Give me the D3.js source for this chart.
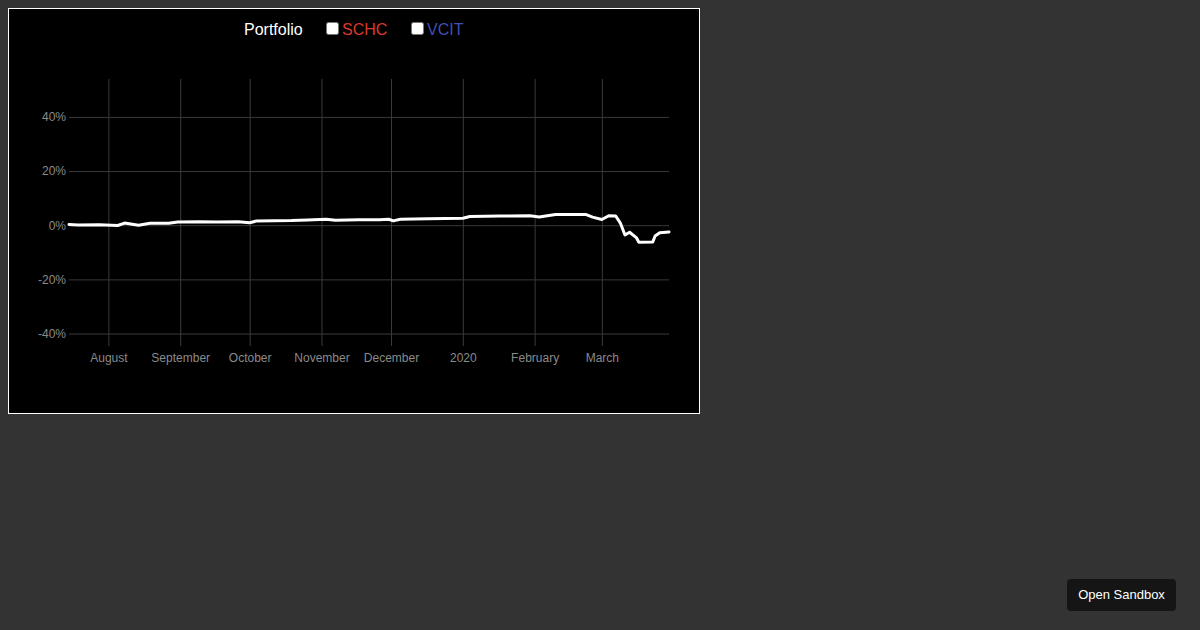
<!DOCTYPE html>
<html>
<head>
<meta charset="utf-8">
<script src="https://cdn.jsdelivr.net/npm/d3@7"></script>
<style>
  html, body { margin: 0; padding: 0; background: #333333; width: 1200px; height: 630px; overflow: hidden; font-family: "Liberation Sans", Arial, sans-serif; }
  #chart { position: absolute; left: 8px; top: 8px; }
  #sandbox { position: absolute; left: 1067px; top: 579px; width: 109px; height: 32px; background: #151515; border-radius: 4px;
    color: #fff; font-size: 13px; line-height: 32px; text-align: center; font-family: "Liberation Sans", Arial, sans-serif; }
</style>
</head>
<body>
<div id="chart"></div>
<div id="sandbox">Open Sandbox</div>
<script>
// ---- data ----
const legendNames = ["Portfolio", "SCHC", "VCIT"];
const legendColors = ["#ffffff", "#d9392e", "#3f4fb0"];
const dates = [
  "2019-07-15","2019-07-19","2019-07-28","2019-08-05","2019-08-08","2019-08-14","2019-08-19","2019-08-27",
  "2019-08-31","2019-09-09","2019-09-17","2019-09-26","2019-10-01","2019-10-04","2019-10-19","2019-10-26",
  "2019-11-03","2019-11-07","2019-11-17","2019-11-26","2019-11-30","2019-12-02","2019-12-05","2019-12-17",
  "2020-01-01","2020-01-04","2020-01-17","2020-01-30","2020-02-03","2020-02-10","2020-02-23","2020-02-26",
  "2020-03-01","2020-03-04","2020-03-07","2020-03-09","2020-03-11","2020-03-13","2020-03-16","2020-03-17",
  "2020-03-23","2020-03-24","2020-03-26","2020-03-30"
];
const portfolio = [
  0.003, 0.001, 0.002, -0.001, 0.008, 0.000, 0.007, 0.007,
  0.012, 0.013, 0.012, 0.013, 0.009, 0.016, 0.017, 0.019,
  0.022, 0.018, 0.020, 0.020, 0.022, 0.016, 0.022, 0.024,
  0.026, 0.032, 0.034, 0.035, 0.030, 0.040, 0.040, 0.030,
  0.021, 0.035, 0.034, 0.008, -0.036, -0.026, -0.047, -0.063,
  -0.062, -0.040, -0.028, -0.025
];
const yTicks = [-0.4, -0.2, 0, 0.2, 0.4];
const yDomain = [-0.446, 0.54];

// ---- layout ----
const W = 692, H = 406;
const m = { left: 61, right: 31, top: 71, bottom: 68 };
const pw = W - m.left - m.right, ph = H - m.top - m.bottom;

const svg = d3.select("#chart").append("svg").attr("width", W).attr("height", H);
svg.append("rect").attr("x", 0.5).attr("y", 0.5).attr("width", W - 1).attr("height", H - 1)
  .attr("fill", "#000").attr("stroke", "#fff").attr("stroke-width", 1);

const parse = d3.timeParse("%Y-%m-%d");
const data = dates.map((d, i) => ({ date: parse(d), v: portfolio[i] }));

const x = d3.scaleTime().domain(d3.extent(data, d => d.date)).range([0, pw]);
const y = d3.scaleLinear().domain(yDomain).range([ph, 0]);

const g = svg.append("g").attr("transform", `translate(${m.left},${m.top})`);

const fmtPct = v => (v < 0 ? "-" : "") + Math.round(Math.abs(v) * 100) + "%";

const yAxis = g.append("g").call(d3.axisLeft(y).tickValues(yTicks).tickFormat(fmtPct).tickSize(-pw).tickPadding(3));
yAxis.select(".domain").remove();
yAxis.selectAll("line").attr("stroke", "#3a3a3a");
yAxis.selectAll("text").attr("fill", "#8a8a8a").style("font-size", "12px").style("font-family", "Liberation Sans, Arial, sans-serif");

const xAxis = g.append("g").attr("transform", `translate(0,${ph})`)
  .call(d3.axisBottom(x).ticks(d3.timeMonth.every(1)).tickSize(-ph).tickPadding(7));
xAxis.select(".domain").remove();
xAxis.selectAll("line").attr("stroke", "#3a3a3a");
xAxis.selectAll("text").attr("fill", "#8a8a8a").style("font-size", "12px").style("font-family", "Liberation Sans, Arial, sans-serif");

g.append("path").datum(data)
  .attr("fill", "none").attr("stroke", "#fff").attr("stroke-width", 3)
  .attr("stroke-linejoin", "round").attr("stroke-linecap", "round")
  .attr("d", d3.line().x(d => x(d.date)).y(d => y(d.v)));

// ---- legend ----
const lg = svg.append("g").style("font-family", "Liberation Sans, Arial, sans-serif").style("font-size", "16px");
lg.append("text").attr("x", 236).attr("y", 26.5).attr("fill", legendColors[0]).text(legendNames[0]);
const boxes = [318, 403];
[1, 2].forEach((k, j) => {
  lg.append("rect").attr("x", boxes[j] + 0.5).attr("y", 14.5).attr("width", 12).attr("height", 12)
    .attr("rx", 2).attr("fill", "#fff").attr("stroke", "#767676").attr("stroke-width", 1);
  lg.append("text").attr("x", boxes[j] + 16).attr("y", 26.5).attr("fill", legendColors[k]).text(legendNames[k]);
});
</script>
</body>
</html>
